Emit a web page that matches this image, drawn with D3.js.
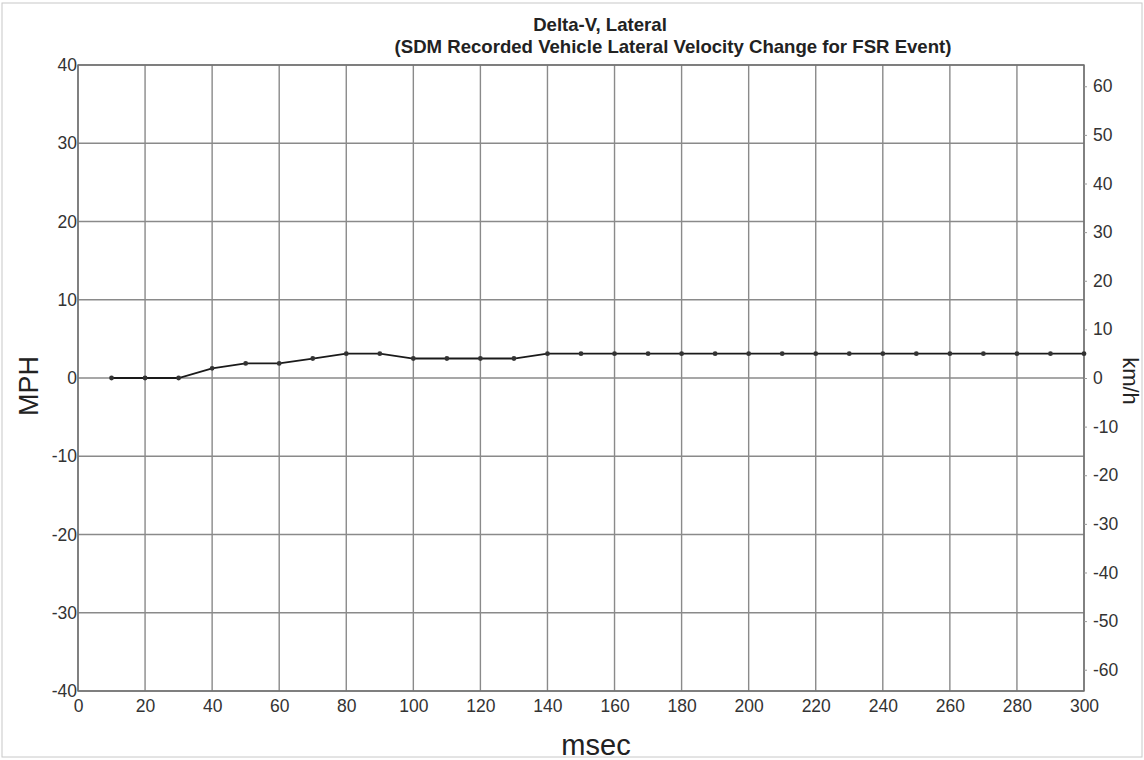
<!DOCTYPE html>
<html>
<head>
<meta charset="utf-8">
<script src="https://cdn.jsdelivr.net/npm/d3@7"></script>
<style>
  body { margin: 0; background: #fff; }
  svg { font-family: "Liberation Sans", Arial, sans-serif; }
</style>
</head>
<body>
<div id="chart"></div>
<script>
// time of each recorded sample (msec)
const timeMs = [10, 20, 30, 40, 50, 60, 70, 80, 90, 100, 110, 120, 130, 140, 150,
  160, 170, 180, 190, 200, 210, 220, 230, 240, 250, 260, 270, 280, 290, 300];
// lateral delta-V (MPH)
const deltaVMph = [0, 0, 0, 1.24, 1.86, 1.86, 2.49, 3.11, 3.11, 2.49, 2.49, 2.49, 2.49, 3.11, 3.11,
  3.11, 3.11, 3.11, 3.11, 3.11, 3.11, 3.11, 3.11, 3.11, 3.11, 3.11, 3.11, 3.11, 3.11, 3.11];
const xTicks = d3.range(0, 301, 20);
const mphTicks = [40, 30, 20, 10, 0, -10, -20, -30, -40];
const kmhTicks = [60, 50, 40, 30, 20, 10, 0, -10, -20, -30, -40, -50, -60];
const KMH_PER_MPH = 1.609344;

const width = 1144, height = 760;
const margin = { top: 65, right: 60, bottom: 69, left: 78 };
const w = width - margin.left - margin.right;
const h = height - margin.top - margin.bottom;

const plain = d => String(d); // hyphen minus like the original, not U+2212

const svg = d3.select("#chart").append("svg")
  .attr("width", width)
  .attr("height", height);

// faint page frame
svg.append("rect")
  .attr("x", 2).attr("y", 3)
  .attr("width", width - 4).attr("height", height - 6)
  .attr("fill", "none")
  .attr("stroke", "#c8c8c8")
  .attr("stroke-width", 1);

const g = svg.append("g")
  .attr("transform", `translate(${margin.left},${margin.top})`);

const x = d3.scaleLinear().domain([0, 300]).range([0, w]);
const y = d3.scaleLinear().domain([-40, 40]).range([h, 0]);
const yKmh = d3.scaleLinear().domain([-40 * KMH_PER_MPH, 40 * KMH_PER_MPH]).range([h, 0]);

// grid
g.append("g")
  .selectAll("line")
  .data(xTicks)
  .join("line")
  .attr("x1", d => x(d)).attr("x2", d => x(d))
  .attr("y1", 0).attr("y2", h)
  .attr("stroke", "#8a8a8a")
  .attr("stroke-width", 1.4);

g.append("g")
  .selectAll("line")
  .data(mphTicks)
  .join("line")
  .attr("x1", 0).attr("x2", w)
  .attr("y1", d => y(d)).attr("y2", d => y(d))
  .attr("stroke", "#8a8a8a")
  .attr("stroke-width", 1.4);

// plot frame
g.append("rect")
  .attr("width", w).attr("height", h)
  .attr("fill", "none")
  .attr("stroke", "#6e6e6e")
  .attr("stroke-width", 1.4);

// left axis (MPH)
const yAxis = g.append("g")
  .call(d3.axisLeft(y).tickValues(mphTicks).tickFormat(plain).tickSize(0).tickPadding(1));
yAxis.select(".domain").remove();
yAxis.selectAll("text")
  .attr("font-size", 17.5)
  .attr("fill", "#333")
  .attr("font-family", "Liberation Sans, Arial, sans-serif");

// bottom axis (msec)
const xAxis = g.append("g")
  .attr("transform", `translate(0,${h})`)
  .call(d3.axisBottom(x).tickValues(xTicks).tickFormat(plain).tickSize(0).tickPadding(9));
xAxis.select(".domain").remove();
xAxis.selectAll("text")
  .attr("font-size", 17.5)
  .attr("fill", "#333")
  .attr("font-family", "Liberation Sans, Arial, sans-serif");

// right axis (km/h)
const rAxis = g.append("g")
  .attr("transform", `translate(${w},0)`)
  .call(d3.axisRight(yKmh).tickValues(kmhTicks).tickFormat(plain).tickSize(3).tickPadding(6));
rAxis.select(".domain").remove();
rAxis.selectAll("line").attr("stroke", "#999");
rAxis.selectAll("text")
  .attr("font-size", 17.5)
  .attr("fill", "#333")
  .attr("font-family", "Liberation Sans, Arial, sans-serif");

// data line
const series = timeMs.map((t, i) => ({ t, v: deltaVMph[i] }));
g.append("path")
  .datum(series)
  .attr("fill", "none")
  .attr("stroke", "#1a1a1a")
  .attr("stroke-width", 1.8)
  .attr("d", d3.line().x(d => x(d.t)).y(d => y(d.v)));

g.append("g")
  .selectAll("circle")
  .data(series)
  .join("circle")
  .attr("cx", d => x(d.t))
  .attr("cy", d => y(d.v))
  .attr("r", 2.4)
  .attr("fill", "#333");

// titles
svg.append("text")
  .attr("x", 600).attr("y", 31)
  .attr("text-anchor", "middle")
  .attr("font-size", 18.6)
  .attr("font-weight", "bold")
  .attr("fill", "#222")
  .text("Delta-V, Lateral");

svg.append("text")
  .attr("x", 673).attr("y", 53)
  .attr("text-anchor", "middle")
  .attr("font-size", 18.6)
  .attr("font-weight", "bold")
  .attr("fill", "#222")
  .text("(SDM Recorded Vehicle Lateral Velocity Change for FSR Event)");

// axis titles
svg.append("text")
  .attr("transform", `translate(38,386) rotate(-90)`)
  .attr("text-anchor", "middle")
  .attr("font-size", 27)
  .attr("fill", "#222")
  .text("MPH");

svg.append("text")
  .attr("x", 596).attr("y", 755)
  .attr("text-anchor", "middle")
  .attr("font-size", 29)
  .attr("fill", "#222")
  .text("msec");

svg.append("text")
  .attr("transform", `translate(1123,381) rotate(90)`)
  .attr("text-anchor", "middle")
  .attr("font-size", 22)
  .attr("fill", "#222")
  .text("km/h");
</script>
</body>
</html>
